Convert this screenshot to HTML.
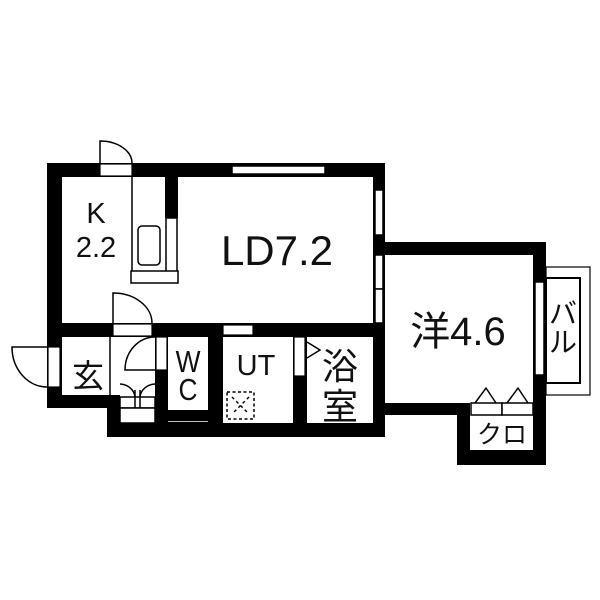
<!DOCTYPE html>
<html><head><meta charset="utf-8"><style>
html,body{margin:0;padding:0;background:#fff;width:600px;height:600px;overflow:hidden}
text{font-family:"Liberation Sans","Noto Sans CJK JP",sans-serif;fill:#111}
</style></head><body>
<svg width="600" height="600" viewBox="0 0 600 600" xmlns="http://www.w3.org/2000/svg">
<g fill="#000">
<rect x="47" y="163" width="338" height="14"/>
<rect x="47" y="163" width="15" height="245"/>
<rect x="47" y="395" width="73" height="13"/>
<rect x="107" y="395" width="13" height="42"/>
<rect x="107" y="423" width="278" height="14"/>
<rect x="373" y="163" width="12" height="274"/>
<rect x="47" y="323" width="338" height="14"/>
<rect x="165" y="177" width="13" height="41"/>
<rect x="155" y="337" width="13" height="86"/>
<rect x="208" y="337" width="15" height="86"/>
<rect x="293" y="337" width="14" height="86"/>
<rect x="168" y="410" width="40" height="11"/>
<rect x="373" y="242" width="173" height="13"/>
<rect x="533" y="242" width="13" height="223"/>
<rect x="385" y="403" width="85" height="12"/>
<rect x="457" y="403" width="13" height="62"/>
<rect x="457" y="450" width="89" height="15"/>
</g>
<g fill="#fff" stroke="#000" stroke-width="1.5">
<rect x="232" y="166" width="93" height="8"/>
<rect x="375" y="190" width="8" height="45"/>
<rect x="375" y="255" width="8" height="34"/>
<rect x="375" y="289" width="8" height="34"/>
<rect x="535" y="282" width="9" height="93"/>
<rect x="100" y="164" width="32" height="12" stroke-width="1.2"/>
<rect x="113" y="324" width="39" height="12" stroke-width="1.2"/>
<rect x="223" y="325" width="30" height="10" stroke-width="1.2"/>
<rect x="48" y="347" width="12" height="40" stroke-width="1.2"/>
<rect x="156" y="337" width="11" height="33" stroke-width="1.2"/>
<rect x="294" y="337" width="11" height="39" stroke-width="1.2"/>
<rect x="166" y="218" width="11" height="55"/>
<rect x="131" y="271" width="47" height="12"/>
<rect x="138" y="226" width="22" height="39" rx="4"/>
<rect x="471" y="403" width="31" height="12"/>
<rect x="502" y="403" width="31" height="12"/>
<rect x="120" y="397" width="35" height="11"/>
<rect x="120" y="408" width="35" height="15"/>
</g>
<g fill="none" stroke="#000" stroke-width="1.5">
<line x1="132" y1="177" x2="132" y2="271"/>
<path d="M100 163 V141 A32 22 0 0 1 132 163"/>
<path d="M113 323 V293 A39 30 0 0 1 152 323"/>
<path d="M47 347 H12 A35 40 0 0 0 47 387"/>
<path d="M155 370 H125 A30 33 0 0 1 155 337"/>
<line x1="110" y1="337" x2="110" y2="395"/>
<path d="M120 384 A16 14 0 0 1 135 397 M155 384 A16 14 0 0 0 140 397"/>
<line x1="135" y1="390" x2="135" y2="408"/>
<line x1="140" y1="390" x2="140" y2="408"/>
<line x1="168" y1="422.5" x2="208" y2="422.5"/>
<path d="M307 342 L320 350 L307 358"/>
<path d="M475 403 L486 388 L496 403 M507 403 L518 388 L528 403"/>
<rect x="227" y="392" width="27" height="27" stroke-dasharray="3 2.5"/>
<path d="M232 397 L249 414 M249 397 L232 414" stroke-dasharray="3 3"/>
<rect x="546" y="267" width="44" height="128" stroke-width="1.2"/>
<rect x="546" y="278" width="34" height="105" stroke-width="2"/>
</g>
<text x="96" y="223" font-size="29" text-anchor="middle">K</text>
<text x="96" y="257" font-size="29" text-anchor="middle">2.2</text>
<text x="277" y="265" font-size="42" text-anchor="middle">LD7.2</text>
<text x="88" y="387" font-size="32" text-anchor="middle">玄</text>
<text transform="translate(188 372) scale(0.85 1)" font-size="31" text-anchor="middle">W</text>
<text transform="translate(188 400) scale(0.85 1)" font-size="31" text-anchor="middle">C</text>
<text x="256" y="375" font-size="29" text-anchor="middle">UT</text>
<text x="340" y="379" font-size="36" text-anchor="middle">浴</text>
<text x="340" y="419" font-size="36" text-anchor="middle">室</text>
<text x="458" y="345" font-size="40" text-anchor="middle">洋4.6</text>
<text x="563" y="323" font-size="28" text-anchor="middle">バ</text>
<text x="563" y="352" font-size="28" text-anchor="middle">ル</text>
<text x="502" y="443" font-size="25" text-anchor="middle">クロ</text>
</svg>
</body></html>
